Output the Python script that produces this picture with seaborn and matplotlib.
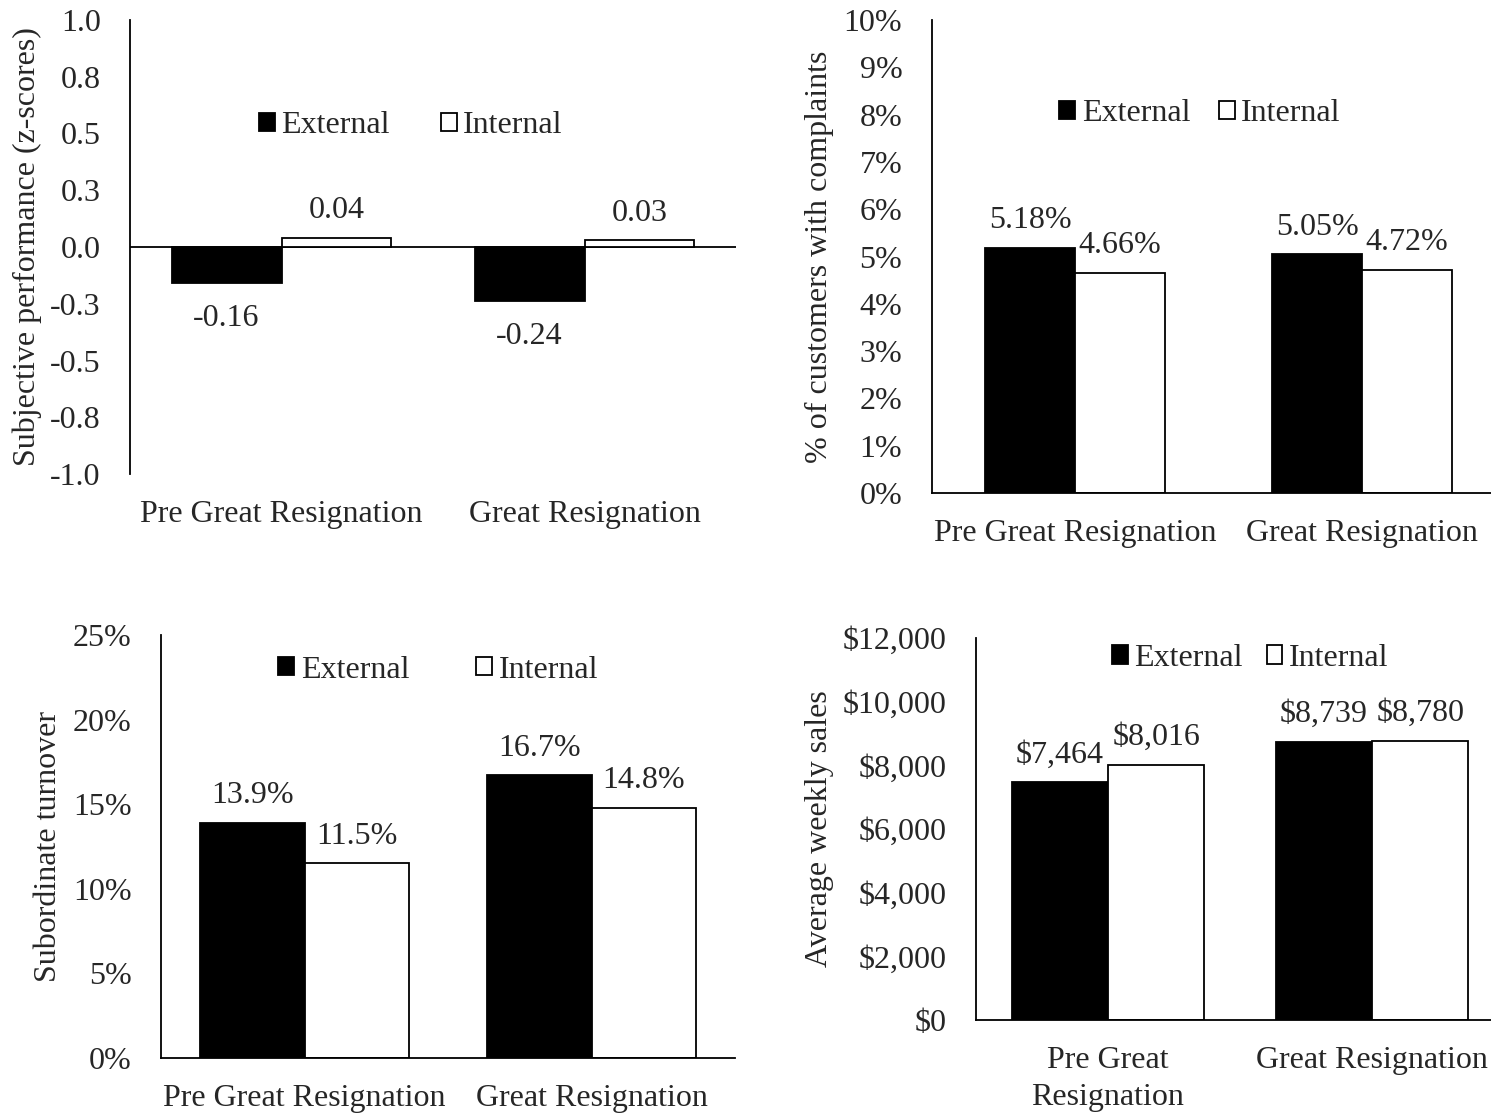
import matplotlib
matplotlib.use("Agg")
import matplotlib.pyplot as plt
import numpy as np
import pandas as pd
import seaborn as sns

# ---- data ----
periods = ["Pre Great Resignation", "Great Resignation"]
groups = ["External", "Internal"]

perf_external = [-0.16, -0.24]
perf_internal = [0.04, 0.03]

complaints_external = [5.18, 5.05]
complaints_internal = [4.66, 4.72]

turnover_external = [13.9, 16.7]
turnover_internal = [11.5, 14.8]

sales_external = [7464, 8739]
sales_internal = [8016, 8780]

perf_ticks = [-1.0, -0.75, -0.5, -0.25, 0.0, 0.25, 0.5, 0.75, 1.0]
perf_tick_labels = ["-1.0", "-0.8", "-0.5", "-0.3", "0.0", "0.3", "0.5", "0.8", "1.0"]
complaints_ticks = list(range(0, 11))
complaints_tick_labels = [f"{t}%" for t in complaints_ticks]
turnover_ticks = [0, 5, 10, 15, 20, 25]
turnover_tick_labels = [f"{t}%" for t in turnover_ticks]
sales_ticks = [0, 2000, 4000, 6000, 8000, 10000, 12000]
sales_tick_labels = [f"${t:,}" for t in sales_ticks]
sales_period_labels = ["Pre Great\nResignation", "Great Resignation"]


def frame(ext, internal):
    return pd.DataFrame({
        "period": periods * 2,
        "group": [groups[0]] * 2 + [groups[1]] * 2,
        "value": list(ext) + list(internal),
    })


sns.set_theme(style="white")
plt.rcParams["font.family"] = ["Liberation Serif", "DejaVu Serif"]
FS = 23

W, H = 1491, 1113
fig = plt.figure(figsize=(W / 100, H / 100), dpi=100)


def axes_at(left, right, top, bottom):
    return fig.add_axes([left / W, 1 - bottom / H, (right - left) / W, (bottom - top) / H])


def draw_panel(ax, df, width, ylim, ticks, tick_labels, ylabel, fmt,
               legend_xy, colspace, label_x_px, left_px, right_px,
               xlabels=None, neg_pad=15):
    sns.barplot(data=df, x="period", y="value", hue="group", order=periods,
                hue_order=groups, palette=["black", "white"], edgecolor="black",
                linewidth=1.3, width=width, errorbar=None, ax=ax, saturation=1)
    ax.set_ylim(*ylim)
    ax.set_xlim(-0.5, 1.5)
    ax.set_yticks(ticks)
    ax.set_yticklabels(tick_labels, fontsize=FS)
    ax.set_xticks([0, 1])
    ax.set_xticklabels(xlabels if xlabels else periods, fontsize=FS, linespacing=1.35)
    ax.tick_params(axis="y", length=0, pad=21)
    ax.tick_params(axis="x", length=0, pad=19)
    ax.set_xlabel("")
    ax.set_ylabel(ylabel, fontsize=FS)
    ax.yaxis.set_label_coords((label_x_px - left_px) / (right_px - left_px), 0.5)
    for side in ["top", "right"]:
        ax.spines[side].set_visible(False)
    for side in ["left", "bottom"]:
        ax.spines[side].set_color("black")
        ax.spines[side].set_linewidth(1.3)
    for cont in ax.containers:
        vals = cont.datavalues
        labels = [fmt(v) for v in vals]
        pad = neg_pad if np.all(vals < 0) else 9
        ax.bar_label(cont, labels=labels, padding=pad, fontsize=FS)
    handles, labs = ax.get_legend_handles_labels()
    ax.legend(handles, labs, loc="center", bbox_to_anchor=legend_xy, ncol=2,
              frameon=False, fontsize=FS, handlelength=0.5, handleheight=0.5,
              handletextpad=0.2, columnspacing=colspace, borderpad=0)


# Subjective performance
ax1 = axes_at(130, 736, 20, 474)
draw_panel(ax1, frame(perf_external, perf_internal), 0.726, (-1, 1),
           perf_ticks, perf_tick_labels, "Subjective performance (z-scores)",
           lambda v: f"{v:.2f}", (0.463, 0.767), 1.6, 42, 130, 736)
ax1.spines["bottom"].set_visible(False)
ax1.axhline(0, color="black", lw=1.3, zorder=0.5)

# Customer complaints
ax2 = axes_at(931.5, 1505.5, 20, 493)
draw_panel(ax2, frame(complaints_external, complaints_internal), 0.627, (0, 10),
           complaints_ticks, complaints_tick_labels, "% of customers with complaints",
           lambda v: f"{v:.2f}%", (0.468, 0.802), 0.9, 834, 931.5, 1505.5)

# Subordinate turnover
ax3 = axes_at(161, 735, 635, 1058)
draw_panel(ax3, frame(turnover_external, turnover_internal), 0.73, (0, 25),
           turnover_ticks, turnover_tick_labels, "Subordinate turnover",
           lambda v: f"{v:.1f}%", (0.483, 0.917), 2.1, 63, 161, 735)

# Average weekly sales
ax4 = axes_at(976, 1504, 638, 1020)
draw_panel(ax4, frame(sales_external, sales_internal), 0.73, (0, 12000),
           sales_ticks, sales_tick_labels, "Average weekly sales",
           lambda v: f"${v:,.0f}", (0.519, 0.947), 0.75, 834, 976, 1504,
           xlabels=sales_period_labels)

fig.savefig("out.png", dpi=100, facecolor="white")
